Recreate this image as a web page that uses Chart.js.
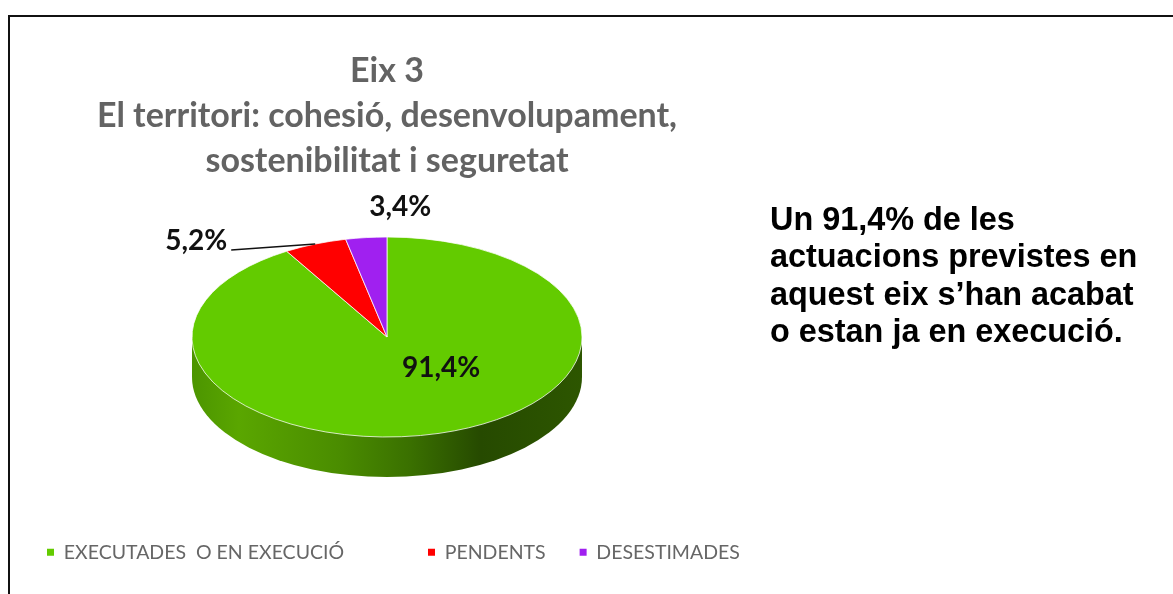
<!DOCTYPE html>
<html lang="ca">
<head>
<meta charset="utf-8">
<title>Eix 3</title>
<script src="https://cdn.jsdelivr.net/npm/chart.js@4"></script>
<style>
  html, body { margin: 0; padding: 0; background: #fff; overflow: hidden; }
  #frame { position: absolute; left: 8px; top: 15px; width: 1165px; height: 579px; border-left: 2px solid #111; border-top: 2px solid #111; box-sizing: border-box; }
  #wrap { position: absolute; left: 0; top: 0; width: 774px; height: 594px; }
  #note { position: absolute; left: 770px; top: 201px; font: bold 32.4px/37.4px "Liberation Sans", sans-serif; color: #000; white-space: nowrap; }
</style>
</head>
<body>
<div id="frame"></div>
<div id="wrap"><canvas id="pieChart"></canvas></div>
<div id="note">Un 91,4% de les<br>actuacions previstes en<br>aquest eix s’han acabat<br>o estan ja en execució.</div>
<script>
// Chart data
const categories = ["EXECUTADES  O EN EXECUCIÓ", "PENDENTS", "DESESTIMADES"];
const values = [91.4, 5.2, 3.4];
const colors = ["#63CB00", "#FF0000", "#A020F0"];
const titleLines = ["Eix 3", "El territori: cohesió, desenvolupament,", "sostenibilitat i seguretat"];

// Look of the fake 3D pie
const radiusX = 195;
const radiusY = 100;
const depth = 40;
const centerY = 337;
const labelOffsets = [[2, -65], [-119, -3], [34, -31]];
const leaderSlice = 1;
const legendShift = 13;

const fmt = (v) => v.toFixed(1).replace(".", ",") + "%";

const pie3d = {
  id: "pie3d",
  afterLayout(chart) {
    // legend sits a little right of the pie centre
    chart.legend.left += legendShift;
    chart.legend.right += legendShift;
  },
  beforeDatasetsDraw(chart) {
    const { ctx } = chart;
    const arc = chart.getDatasetMeta(0).data[0];
    const cx = arc.x;

    // side wall under the front half
    const grad = ctx.createLinearGradient(cx - radiusX, 0, cx + radiusX, 0);
    grad.addColorStop(0, "#4C9500");
    grad.addColorStop(0.12, "#5AA600");
    grad.addColorStop(0.38, "#4A8C00");
    grad.addColorStop(0.56, "#3A7000");
    grad.addColorStop(0.74, "#264A00");
    grad.addColorStop(1, "#2D5600");
    ctx.save();
    ctx.beginPath();
    ctx.moveTo(cx + radiusX, centerY);
    ctx.lineTo(cx + radiusX, centerY + depth);
    ctx.ellipse(cx, centerY + depth, radiusX, radiusY, 0, 0, Math.PI);
    ctx.lineTo(cx - radiusX, centerY);
    ctx.closePath();
    ctx.fillStyle = grad;
    ctx.fill();
    ctx.restore();

    // squash the round pie into an ellipse
    ctx.save();
    ctx.translate(cx, centerY);
    ctx.scale(1, radiusY / radiusX);
    ctx.translate(-cx, -arc.y);
  },
  afterDatasetsDraw(chart) {
    const { ctx } = chart;
    ctx.restore();

    ctx.save();
    ctx.font = "bold 28px Lato, sans-serif";
    ctx.fillStyle = "#111";
    ctx.textAlign = "center";
    ctx.textBaseline = "middle";
    chart.getDatasetMeta(0).data.forEach((arc, i) => {
      const mid = (arc.startAngle + arc.endAngle) / 2;
      const ex = arc.x + radiusX * Math.cos(mid);
      const ey = centerY + radiusY * Math.sin(mid);
      const lx = ex + labelOffsets[i][0];
      const ly = ey + labelOffsets[i][1];
      const text = fmt(values[i]);
      ctx.fillText(text, lx, ly);
      if (i === leaderSlice) {
        ctx.beginPath();
        ctx.moveTo(lx + ctx.measureText(text).width / 2 + 4, ly + 9);
        ctx.lineTo(ex, ey);
        ctx.strokeStyle = "#111";
        ctx.lineWidth = 1.3;
        ctx.stroke();
      }
    });
    ctx.restore();
  },
};

const ctx = document.getElementById("pieChart").getContext("2d");
new Chart(ctx, {
  type: "pie",
  plugins: [pie3d],
  data: {
    labels: categories,
    datasets: [
      {
        data: values,
        backgroundColor: colors,
        borderColor: "#fff",
        borderWidth: 1,
        radius: radiusX,
        clip: false,
      },
    ],
  },
  options: {
    responsive: true,
    maintainAspectRatio: false,
    animation: false,
    events: [],
    layout: { padding: { top: 49, bottom: 22 } },
    plugins: {
      tooltip: { enabled: false },
      title: {
        display: true,
        text: titleLines,
        color: "#636363",
        font: { family: "Lato, sans-serif", size: 34, weight: "bold", lineHeight: 1.32 },
        padding: { top: 0, bottom: 4 },
      },
      legend: {
        display: true,
        position: "bottom",
        align: "start",
        labels: {
          boxWidth: 7,
          boxHeight: 7,
          padding: 34,
          color: "#666",
          font: { family: "Lato, sans-serif", size: 19.5 },
          // first entry has a wider gap after it in the original
          generateLabels(chart) {
            return Chart.overrides.pie.plugins.legend.labels.generateLabels(chart).map((item, i) => {
              item.lineWidth = 0;
              if (i === 0) item.text += " ".repeat(10);
              return item;
            });
          },
        },
      },
    },
  },
});
</script>
</body>
</html>
